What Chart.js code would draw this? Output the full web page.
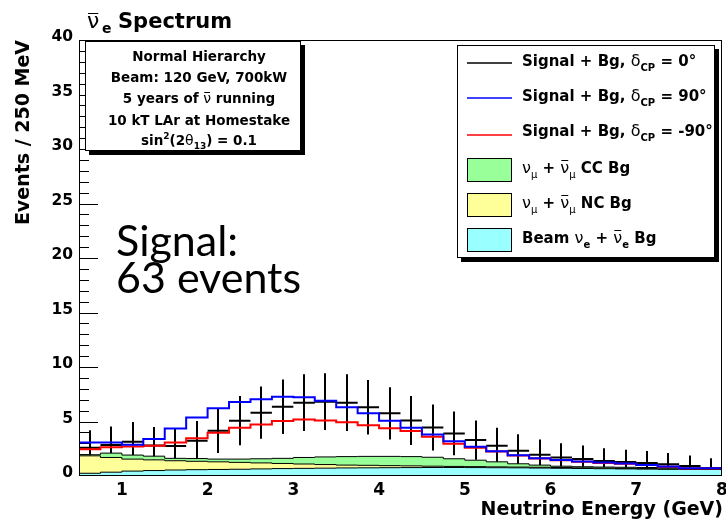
<!DOCTYPE html>
<html>
<head>
<meta charset="utf-8">
<script src="https://cdn.jsdelivr.net/npm/chart.js@4.4.1/dist/chart.umd.min.js"></script>
<style>
  html, body { margin: 0; padding: 0; background: #fff; }
</style>
</head>
<body>
<canvas id="spectrum" width="726" height="527"></canvas>
<script>
// 250 MeV bins from 0.5 to 8 GeV
const binEdges = [0.5, 0.75, 1.0, 1.25, 1.5, 1.75, 2.0, 2.25, 2.5, 2.75, 3.0, 3.25, 3.5, 3.75, 4.0,
    4.25, 4.5, 4.75, 5.0, 5.25, 5.5, 5.75, 6.0, 6.25, 6.5, 6.75, 7.0, 7.25, 7.5, 7.75, 8.0];

const xTickValues = [1, 2, 3, 4, 5, 6, 7, 8];
const yTickValues = [0, 5, 10, 15, 20, 25, 30, 35, 40];

// signal + background, delta_CP = 0 (drawn as data crosses)
const signalDelta0 = [2.6, 2.85, 3.15, 2.8, 2.75, 3.24, 4.16, 5.08, 5.81, 6.36, 6.73, 6.82, 6.73, 6.3, 5.75,
    5.1, 4.45, 3.91, 3.3, 2.78, 2.32, 1.95, 1.7, 1.55, 1.38, 1.28, 1.2, 1.08, 0.92, 0.74];
const errDelta0 = [1.6, 1.7, 1.8, 1.7, 1.65, 1.8, 2.05, 2.25, 2.4, 2.5, 2.6, 2.6, 2.6, 2.5, 2.4,
    2.25, 2.1, 2.0, 1.8, 1.65, 1.5, 1.4, 1.3, 1.25, 1.17, 1.13, 1.1, 1.04, 0.96, 0.88];
const signalDelta90 = [2.65, 3.07, 3.08, 2.86, 3.4, 4.35, 5.36, 6.22, 6.8, 7.05, 7.28, 7.22, 6.91, 6.3, 5.75,
    5.08, 4.43, 3.8, 3.18, 2.69, 2.28, 1.9, 1.62, 1.47, 1.33, 1.23, 1.15, 1.02, 0.88, 0.7];
const signalDeltaM90 = [2.45, 2.45, 2.63, 2.7, 2.78, 3.08, 3.47, 3.97, 4.43, 4.72, 5.05, 5.18, 5.1, 4.92, 4.65,
    4.37, 4.13, 3.6, 2.97, 2.6, 2.25, 1.88, 1.6, 1.45, 1.3, 1.2, 1.12, 1.0, 0.86, 0.68];

// backgrounds (stacked: beam nue, then NC, then CC on top)
const beamNueBg = [0.15, 0.25, 0.35, 0.45, 0.5, 0.55, 0.58, 0.6, 0.62, 0.65, 0.68, 0.7, 0.72, 0.74, 0.75,
    0.76, 0.77, 0.78, 0.78, 0.77, 0.76, 0.75, 0.73, 0.71, 0.69, 0.67, 0.65, 0.63, 0.61, 0.6];
const ncBg = [1.85, 1.6, 1.35, 1.1, 0.98, 0.85, 0.77, 0.7, 0.63, 0.55, 0.47, 0.4, 0.33, 0.26, 0.23,
    0.19, 0.16, 0.12, 0.1, 0.09, 0.08, 0.07, 0.07, 0.07, 0.06, 0.06, 0.05, 0.05, 0.05, 0.04];
const ccBg = [0.05, 0.1, 0.4, 0.37, 0.34, 0.22, 0.25, 0.25, 0.3, 0.38, 0.47, 0.6, 0.7, 0.78, 0.82,
    0.85, 0.85, 0.82, 0.7, 0.59, 0.46, 0.3, 0.2, 0.12, 0.1, 0.09, 0.1, 0.1, 0.09, 0.08];

const B = s => `bold ${s}px "DejaVu Sans"`;
const R = s => `${s}px "DejaVu Sans"`;

// histogram as step line: one point at each low edge, plus the last high edge
function histPoints(values) {
    const pts = values.map((v, i) => ({ x: binEdges[i], y: v }));
    pts.push({ x: binEdges[binEdges.length - 1], y: values[values.length - 1] });
    return pts;
}

// text pieces: [text, font, dy, overline offset]
function drawRich(ctx, x, y, parts, align) {
    let total = 0;
    parts.forEach(p => { ctx.font = p[1]; total += ctx.measureText(p[0]).width; });
    let cx = align === "center" ? x - total / 2 : x;
    ctx.textAlign = "left";
    ctx.textBaseline = "alphabetic";
    parts.forEach(([t, font, dy = 0, bar]) => {
        ctx.font = font;
        const w = ctx.measureText(t).width;
        ctx.fillText(t, cx, y + dy);
        if (bar) {
            ctx.beginPath();
            ctx.lineWidth = 1;
            ctx.moveTo(cx + 1, y + bar + 0.5);
            ctx.lineTo(cx + w - 1, y + bar + 0.5);
            ctx.stroke();
        }
        cx += w;
    });
}

function shadowBox(ctx, l, t, r, b) {
    ctx.fillStyle = "#000";
    ctx.fillRect(l + 4, t + 4, r - l, b - t);
    ctx.fillStyle = "#fff";
    ctx.fillRect(l, t, r - l, b - t);
    ctx.strokeStyle = "#000";
    ctx.lineWidth = 1;
    ctx.strokeRect(l + 0.5, t + 0.5, r - l - 1, b - t - 1);
}

const rootDecor = {
    id: "rootDecor",
    beforeDatasetsDraw(chart) {
        const { ctx, chartArea: a, scales: { x, y } } = chart;
        ctx.save();
        ctx.beginPath();
        ctx.rect(a.left, a.top, a.right - a.left, a.bottom - a.top);
        ctx.clip();

        // inside ticks on the y axis
        ctx.strokeStyle = "#000";
        ctx.lineWidth = 1;
        ctx.beginPath();
        for (let v = 0; v <= 40; v++) {
            const py = Math.round(y.getPixelForValue(v)) + 0.5;
            const len = v % 5 === 0 ? 19 : 10;
            ctx.moveTo(a.left, py);
            ctx.lineTo(a.left + len, py);
        }
        ctx.stroke();

        // data crosses for delta_CP = 0
        ctx.lineWidth = 2;
        ctx.beginPath();
        signalDelta0.forEach((v, i) => {
            const py = y.getPixelForValue(v);
            ctx.moveTo(x.getPixelForValue(binEdges[i]), py);
            ctx.lineTo(x.getPixelForValue(binEdges[i + 1]), py);
            const px = Math.round(x.getPixelForValue((binEdges[i] + binEdges[i + 1]) / 2));
            ctx.moveTo(px, y.getPixelForValue(v + errDelta0[i]));
            ctx.lineTo(px, y.getPixelForValue(v - errDelta0[i]));
        });
        ctx.stroke();
        ctx.restore();
    },
    afterDatasetsDraw(chart) {
        const { ctx, chartArea: a } = chart;
        ctx.save();

        // frame
        ctx.strokeStyle = "#000";
        ctx.lineWidth = 1;
        ctx.strokeRect(a.left + 0.5, a.top + 0.5, a.right - a.left - 1, a.bottom - a.top - 1);

        ctx.fillStyle = "#000";
        ctx.strokeStyle = "#000";

        // title
        drawRich(ctx, 87, 28, [["ν", R(22), 0, -15]]);
        drawRich(ctx, 102, 33, [["e", B(14)]]);
        drawRich(ctx, 118, 28, [["Spectrum", B(21)]]);

        // axis titles
        ctx.font = B(19);
        ctx.textAlign = "right";
        ctx.textBaseline = "alphabetic";
        ctx.fillText("Neutrino Energy (GeV)", 723, 515);
        ctx.save();
        ctx.translate(28.5, 40);
        ctx.rotate(-Math.PI / 2);
        ctx.fillText("Events / 250 MeV", 0, 0);
        ctx.restore();

        // info box
        shadowBox(ctx, 85, 41, 301, 151);
        ctx.fillStyle = "#000";
        const cxInfo = 199;
        drawRich(ctx, cxInfo, 61, [["Normal Hierarchy", B(13.5)]], "center");
        drawRich(ctx, cxInfo, 82, [["Beam: 120 GeV, 700kW", B(13.5)]], "center");
        drawRich(ctx, cxInfo, 103, [["5 years of ", B(13.5)], ["ν", R(14), 0, -11], [" running", B(13.5)]], "center");
        drawRich(ctx, cxInfo, 125, [["10 kT LAr at Homestake", B(13.5)]], "center");
        drawRich(ctx, cxInfo, 145, [["sin", B(13.5)], ["2", B(9), -6], ["(2", B(13.5)], ["θ", R(14)],
            ["13", B(9), 4], [") = 0.1", B(13.5)]], "center");

        // legend
        shadowBox(ctx, 457, 45, 715, 258);
        const lineSamples = [["#000", 63], ["#0000ff", 98], ["#ff0000", 135]];
        lineSamples.forEach(([c, ly]) => {
            ctx.strokeStyle = c;
            ctx.lineWidth = 1.5;
            ctx.beginPath();
            ctx.moveTo(467, ly);
            ctx.lineTo(512, ly);
            ctx.stroke();
        });
        const boxSamples = [["#99ff99", 158], ["#ffff99", 193], ["#99ffff", 228]];
        boxSamples.forEach(([c, by]) => {
            ctx.fillStyle = c;
            ctx.fillRect(467, by, 45, 24);
            ctx.strokeStyle = "#000";
            ctx.lineWidth = 1;
            ctx.strokeRect(467.5, by + 0.5, 44, 23);
        });
        ctx.fillStyle = "#000";
        ctx.strokeStyle = "#000";
        const tx = 522;
        drawRich(ctx, tx, 66, [["Signal + Bg, ", B(15)], ["δ", R(16)], ["CP", B(10), 5], [" = 0°", B(15)]]);
        drawRich(ctx, tx, 101, [["Signal + Bg, ", B(15)], ["δ", R(16)], ["CP", B(10), 5], [" = 90°", B(15)]]);
        drawRich(ctx, tx, 136, [["Signal + Bg, ", B(15)], ["δ", R(16)], ["CP", B(10), 5], [" = -90°", B(15)]]);
        drawRich(ctx, tx, 173, [["ν", R(16)], ["μ", R(10), 5], [" + ", B(15)], ["ν", R(16), 0, -13],
            ["μ", R(10), 5], [" CC Bg", B(15)]]);
        drawRich(ctx, tx, 208, [["ν", R(16)], ["μ", R(10), 5], [" + ", B(15)], ["ν", R(16), 0, -13],
            ["μ", R(10), 5], [" NC Bg", B(15)]]);
        drawRich(ctx, tx, 243, [["Beam ", B(15)], ["ν", R(16)], ["e", B(10), 5], [" + ", B(15)],
            ["ν", R(16), 0, -13], ["e", B(10), 5], [" Bg", B(15)]]);

        // overlay note
        ctx.font = '43px "Lato"';
        ctx.textAlign = "left";
        ctx.fillText("Signal:", 116, 256);
        ctx.fillText("63 events", 116, 293);

        ctx.restore();
    }
};

const tickFont = size => ({ family: "DejaVu Sans", weight: "bold", size });

new Chart(document.getElementById("spectrum"), {
    type: "line",
    data: {
        datasets: [
            {
                label: "Signal + Bg, dCP = 90",
                data: histPoints(signalDelta90),
                stack: "s90",
                borderColor: "#0000ff",
                borderWidth: 2,
                stepped: "after",
                pointRadius: 0,
                fill: false
            },
            {
                label: "Signal + Bg, dCP = -90",
                data: histPoints(signalDeltaM90),
                stack: "sm90",
                borderColor: "#ff0000",
                borderWidth: 2,
                stepped: "after",
                pointRadius: 0,
                fill: false
            },
            {
                label: "Beam nue Bg",
                data: histPoints(beamNueBg),
                stack: "bg",
                borderColor: "#000",
                borderWidth: 1,
                backgroundColor: "#99ffff",
                stepped: "after",
                pointRadius: 0,
                fill: "origin"
            },
            {
                label: "NC Bg",
                data: histPoints(ncBg),
                stack: "bg",
                borderColor: "#000",
                borderWidth: 1,
                backgroundColor: "#ffff99",
                stepped: "after",
                pointRadius: 0,
                fill: "-1"
            },
            {
                label: "CC Bg",
                data: histPoints(ccBg),
                stack: "bg",
                borderColor: "#000",
                borderWidth: 1,
                backgroundColor: "#99ff99",
                stepped: "after",
                pointRadius: 0,
                fill: "-1"
            }
        ]
    },
    options: {
        responsive: false,
        animation: false,
        events: [],
        layout: { padding: { left: 0, right: 4, top: 40, bottom: 0 } },
        plugins: {
            legend: { display: false },
            title: { display: false },
            tooltip: { enabled: false }
        },
        scales: {
            x: {
                type: "linear",
                min: 0.5,
                max: 8,
                afterBuildTicks: s => { s.ticks = xTickValues.map(v => ({ value: v })); },
                afterFit: s => { s.height = 51; s.paddingLeft = 0; s.paddingRight = 0; },
                grid: { display: false, drawTicks: false },
                border: { display: false },
                ticks: { color: "#000", font: tickFont(17), padding: 4, maxRotation: 0, autoSkip: false }
            },
            y: {
                min: 0,
                max: 40,
                stacked: true,
                afterBuildTicks: s => { s.ticks = yTickValues.map(v => ({ value: v })); },
                afterFit: s => { s.width = 79; s.paddingTop = 0; s.paddingBottom = 0; },
                grid: { display: false, drawTicks: false },
                border: { display: false },
                ticks: { color: "#000", font: tickFont(15.5), padding: 6, labelOffset: -3 }
            }
        }
    },
    plugins: [rootDecor]
});
</script>
</body>
</html>
